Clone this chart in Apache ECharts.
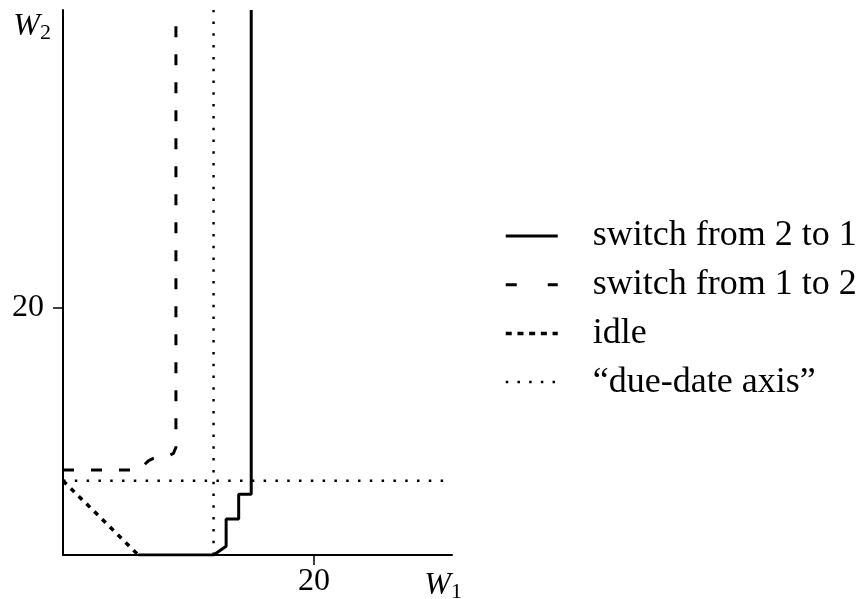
<!DOCTYPE html>
<html>
<head>
<meta charset="utf-8">
<title>switching curves</title>
<script src="https://cdn.jsdelivr.net/npm/echarts@6.0.0/dist/echarts.min.js"></script>
<style>
  html, body { margin: 0; padding: 0; background: #fff; }
  #chart { width: 862px; height: 599px; }
</style>
</head>
<body>
<div id="chart"></div>
<script>
// axis ranges and the single labelled tick on each axis
const xMax = 31;
const yMax = 44;
const xTicks = [20];
const yTicks = [20];

const names = ["switch from 2 to 1", "switch from 1 to 2", "idle", "\u201cdue-date axis\u201d"];

// points are [W1, W2]
const switch21 = [[15, 44], [15, 4.9], [14, 4.9], [14, 2.9], [13, 2.9], [13, 0.7], [12, 0], [6, 0]];
// drawn from the W2 axis outwards so the dash pattern starts at the axis
const switch12 = [[0, 6.86], [6, 6.86], [6.4, 7.2], [6.8, 7.6], [7.2, 7.8], [7.8, 7.9], [8.4, 8.0], [8.8, 8.2], [9, 8.7], [9, 44]];
const idle = [[0, 6], [6, 0]];
const dueDateH = [[0, 6], [31, 6]];
const dueDateV = [[12, 0], [12, 44]];

const serif = "Liberation Serif";
const chart = echarts.init(document.getElementById("chart"));

// line styles, shared by series and legend
const solidStyle = { color: "#000", width: 3, type: "solid" };
const dashStyle = { color: "#000", width: 3, type: [11, 17] };
const idleStyle = { color: "#000", width: 3.5, type: [5, 6] };
const dueStyle = { color: "#000", width: 2.5, type: [2.5, 9.3] };

// no marker in the legend, only the line sample
const noMarker = { color: "rgba(0,0,0,0)", borderWidth: 0, opacity: 0 };

const nameRich = {
  w: { fontFamily: serif, fontStyle: "italic", fontSize: 32, color: "#000", lineHeight: 34 },
  s: { fontFamily: serif, fontSize: 22, color: "#000", lineHeight: 22, verticalAlign: "bottom" },
};

const axisCommon = {
  type: "value",
  splitLine: { show: false },
  axisLine: { show: true, onZero: false, lineStyle: { color: "#000", width: 2 } },
  axisTick: { show: true, length: 10, lineStyle: { color: "#000", width: 1.5 } },
  axisLabel: { color: "#000", fontFamily: serif, fontSize: 32 },
};

const option = {
  animation: false,
  backgroundColor: "#fff",
  grid: { left: 63, right: 410, top: 10, bottom: 44, outerBoundsMode: "none" },
  xAxis: {
    ...axisCommon,
    min: 0,
    max: xMax,
    axisTick: { ...axisCommon.axisTick, customValues: xTicks },
    axisLabel: { ...axisCommon.axisLabel, customValues: xTicks, margin: 11 },
    name: "{w|W}{s|1}",
    nameLocation: "end",
    nameGap: 10,
    nameTextStyle: { align: "right", verticalAlign: "top", padding: [14, 0, 0, 0], rich: nameRich },
  },
  yAxis: {
    ...axisCommon,
    min: 0,
    max: yMax,
    axisTick: { ...axisCommon.axisTick, customValues: yTicks },
    axisLabel: { ...axisCommon.axisLabel, customValues: yTicks, margin: 19 },
    name: "{w|W}{s|2}",
    nameLocation: "end",
    nameGap: 0,
    nameTextStyle: { align: "right", verticalAlign: "top", padding: [0, 12, 0, 0], rich: nameRich },
  },
  legend: {
    orient: "vertical",
    left: 499,
    top: 211,
    itemWidth: 52,
    itemHeight: 14,
    itemGap: 8.7,
    selectedMode: false,
    itemStyle: noMarker,
    textStyle: { color: "#000", fontFamily: serif, fontSize: 36, lineHeight: 40, padding: [0, 0, 0, 30] },
    data: [
      { name: names[0], itemStyle: noMarker, lineStyle: solidStyle },
      { name: names[1], itemStyle: noMarker, lineStyle: { ...dashStyle, type: [11, 31] } },
      { name: names[2], itemStyle: noMarker, lineStyle: { ...idleStyle, type: [6, 5.7] } },
      { name: names[3], itemStyle: noMarker, lineStyle: { ...dueStyle, type: [2.5, 9.2] } },
    ],
  },
  series: [
    { name: names[3], type: "line", data: dueDateH, symbol: "none", lineStyle: dueStyle, color: "#000" },
    { name: names[3], type: "line", data: dueDateV, symbol: "none", lineStyle: dueStyle, color: "#000" },
    { name: names[2], type: "line", data: idle, symbol: "none", lineStyle: idleStyle, color: "#000" },
    { name: names[1], type: "line", data: switch12, symbol: "none", lineStyle: dashStyle, color: "#000" },
    { name: names[0], type: "line", data: switch21, symbol: "none", lineStyle: solidStyle, color: "#000" },
  ],
};

chart.setOption(option);
</script>
</body>
</html>
